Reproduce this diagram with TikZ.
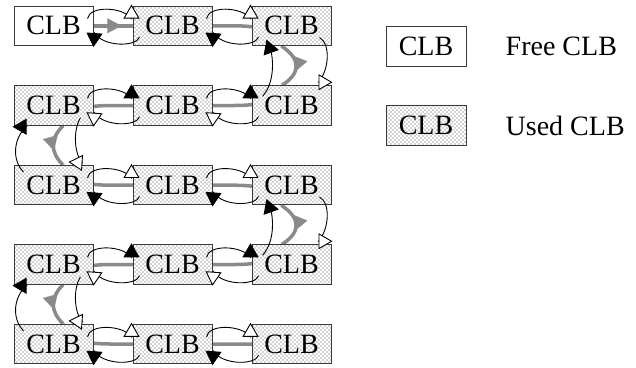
\documentclass[tikz,border=0pt]{standalone}
\usepackage{fontspec}
\setmainfont{Liberation Serif}
\usetikzlibrary{arrows.meta,calc,patterns,decorations.markings}

\definecolor{chaingray}{HTML}{8A8A8A}
\definecolor{edgegray}{HTML}{3A3A3A}

% staggered dot texture for occupied blocks
\pgfdeclarepatternformonly{clbdots}{\pgfqpoint{-0.5pt}{-0.5pt}}{\pgfqpoint{4.5pt}{4.5pt}}{\pgfqpoint{4pt}{4pt}}{%
  \pgfpathcircle{\pgfqpoint{1pt}{1pt}}{0.6pt}%
  \pgfpathcircle{\pgfqpoint{3pt}{3pt}}{0.6pt}%
  \pgfusepath{fill}%
}

% thin link pair between two horizontally adjacent blocks
% #1 left block, #2 right block, #3 style of upper arc, #4 style of lower arc
\newcommand\hlinks[4]{%
  \draw[#3] ($(#1.north east)+(-6,13)$) .. controls ($(#1.north east)+(-4,0)$) and ($(#2.north west)+(-10,1)$) .. ($(#2.north west)+(-1,13)$) -- ($(#2.north west)+(-1,-1)$);
  \draw[#4] ($(#2.south west)+(7,-9)$) .. controls ($(#2.south west)+(4,1)$) and ($(#1.south east)+(10,1)$) .. ($(#1.south east)+(1,-13)$) -- ($(#1.south east)+(0,1)$);
}
% thin link pair on the right column, #1 upper block, #2 lower block
\newcommand\rlinks[2]{%
  \draw[bwd] ($(#2.north west)+(11,11)$) .. controls ($(#2.north west)+(22,-1)$) and ($(#1.south west)+(22,18)$) .. ($(#1.south west)+(20,7.5)$) -- ($(#1.south west)+(15,-6.5)$);
  \draw[fwd] ($(#1.north east)+(-12,32)$) .. controls ($(#1.north east)+(-1,38)$) and ($(#2.north east)+(-2,-16)$) .. ($(#2.north east)+(-13,-3)$) -- ($(#2.north east)+(1,-3)$);
}
% thin link pair on the left column, #1 upper block, #2 lower block
\newcommand\llinks[2]{%
  \draw[bwd] ($(#2.north west)+(10,7)$) .. controls ($(#2.north west)+(-2,-5)$) and ($(#1.south west)+(0,12)$) .. ($(#1.south west)+(13,1)$) -- ($(#1.south west)+(-1,1)$);
  \draw[fwd] ($(#1.south east)+(-13,-8)$) .. controls ($(#1.south east)+(-21,5)$) and ($(#2.north east)+(-19,-10)$) .. ($(#2.north east)+(-11,-2)$) -- ($(#2.north east)+(-25,-3)$);
}

\begin{document}
\begin{tikzpicture}[x=1pt,y=-1pt,
  clb/.style={draw=edgegray, line width=1pt, minimum width=79pt, minimum height=39.5pt,
    inner sep=0pt, font=\fontsize{28}{30}\selectfont},
  usedclb/.style={clb, preaction={fill=white}, pattern=clbdots, pattern color=black!72},
  freeclb/.style={clb, fill=white},
  legendtext/.style={anchor=west, inner sep=0pt, font=\fontsize{28}{30}\selectfont},
  link/.style={line width=0.9pt, draw=black},
  fwd/.style={link, -{Triangle[length=14pt,width=16pt,fill=white]}},
  bwd/.style={link, -{Triangle[length=14pt,width=16pt]}},
  chain/.style={line width=3.5pt, color=chaingray},
  chainhead/.style={postaction={decorate}, decoration={markings,
    mark=at position #1 with {\arrow{Triangle[length=14pt,width=15pt,line width=0.1pt]}}}}
]
\useasboundingbox (0,0) rectangle (636,367);

% block placeholders, so the chain can be laid out before the blocks cover it
\foreach \r/\y in {1/25.8, 2/105.5, 3/185.2, 4/264.5, 5/344} {
  \foreach \c/\x in {1/53.5, 2/172.5, 3/291.5} {
    \path (\x,\y) node[clb, draw=none, font=\tiny] (b\r\c) {};
  }
}

% ---------- allocation chain ----------
% row 1
\draw[chain, chainhead=0.57] (b11.center) -- (b12.center);
\draw[chain] (b12.center) -- ($(b13.west)+(-17,0)$) .. controls ($(b13.west)+(13,0)$) and ($(b13.south)+(-11,-13)$) .. ($(b13.south)+(-10,0)$);
\draw[chain, chainhead=0.62] ($(b13.south)+(-10,0)$) .. controls ($(b13.south)+(9.5,13)$) and ($(b23.north)+(9.5,-12)$) .. ($(b23.north)+(-9.5,0)$);
% row 2
\draw[chain] ($(b23.north)+(-9.5,0)$) .. controls ($(b23.north)+(-8.5,14)$) and ($(b23.west)+(13,0)$) .. ($(b23.west)+(-17,0)$) -- ($(b21.east)+(17,0)$) .. controls ($(b21.east)+(-13,0)$) and ($(b21.south)+(10.5,-13)$) .. ($(b21.south)+(9.5,0)$);
\draw[chain, chainhead=0.62] ($(b21.south)+(9.5,0)$) .. controls ($(b21.south)+(-3.5,13)$) and ($(b31.north)+(-3.5,-13)$) .. ($(b31.north)+(9.5,0)$);
% row 3
\draw[chain] ($(b31.north)+(9.5,0)$) .. controls ($(b31.north)+(10.5,14)$) and ($(b31.east)+(-13,0)$) .. ($(b31.east)+(17,0)$) -- ($(b33.west)+(-17,0)$) .. controls ($(b33.west)+(13,0)$) and ($(b33.south)+(-11,-13)$) .. ($(b33.south)+(-10,0)$);
\draw[chain, chainhead=0.62] ($(b33.south)+(-10,0)$) .. controls ($(b33.south)+(9.5,13)$) and ($(b43.north)+(9.5,-12)$) .. ($(b43.north)+(-9.5,0)$);
% row 4
\draw[chain] ($(b43.north)+(-9.5,0)$) .. controls ($(b43.north)+(-8.5,14)$) and ($(b43.west)+(13,0)$) .. ($(b43.west)+(-17,0)$) -- ($(b41.east)+(17,0)$) .. controls ($(b41.east)+(-13,0)$) and ($(b41.south)+(10.5,-13)$) .. ($(b41.south)+(9.5,0)$);
\draw[chain, chainhead=0.62] ($(b41.south)+(9.5,0)$) .. controls ($(b41.south)+(-3.5,13)$) and ($(b51.north)+(-3.5,-13)$) .. ($(b51.north)+(9.5,0)$);
% row 5
\draw[chain] ($(b51.north)+(9.5,0)$) .. controls ($(b51.north)+(10.5,14)$) and ($(b51.east)+(-13,0)$) .. ($(b51.east)+(17,0)$) -- (b53.center);

% ---------- blocks drawn over the chain ----------
\node[freeclb] at (b11) {CLB};
\foreach \r in {1,...,5} {
  \foreach \c in {1,2,3} {
    \ifnum\r\c=11\relax\else
      \node[usedclb] at (b\r\c) {CLB};
    \fi
  }
}

% ---------- thin links ----------
\hlinks{b11}{b12}{fwd}{bwd}
\hlinks{b12}{b13}{fwd}{bwd}
\hlinks{b21}{b22}{bwd}{fwd}
\hlinks{b22}{b23}{bwd}{fwd}
\hlinks{b31}{b32}{fwd}{bwd}
\hlinks{b32}{b33}{fwd}{bwd}
\hlinks{b41}{b42}{bwd}{fwd}
\hlinks{b42}{b43}{bwd}{fwd}
\hlinks{b51}{b52}{fwd}{bwd}
\hlinks{b52}{b53}{fwd}{bwd}
\rlinks{b13}{b23}
\rlinks{b33}{b43}
\llinks{b21}{b31}
\llinks{b41}{b51}

% ---------- legend ----------
\node[freeclb, minimum width=80pt, minimum height=40pt] (kfree) at (426,46) {CLB};
\node[usedclb, minimum width=80pt, minimum height=39.5pt] (kused) at (426,125.5) {CLB};
\node[legendtext] (tfree) at ($(kfree.east)+(39,0)$) {Free CLB};
\node[legendtext] (tused) at ($(kused.east)+(39,0)$) {Used CLB};
\end{tikzpicture}
\end{document}
